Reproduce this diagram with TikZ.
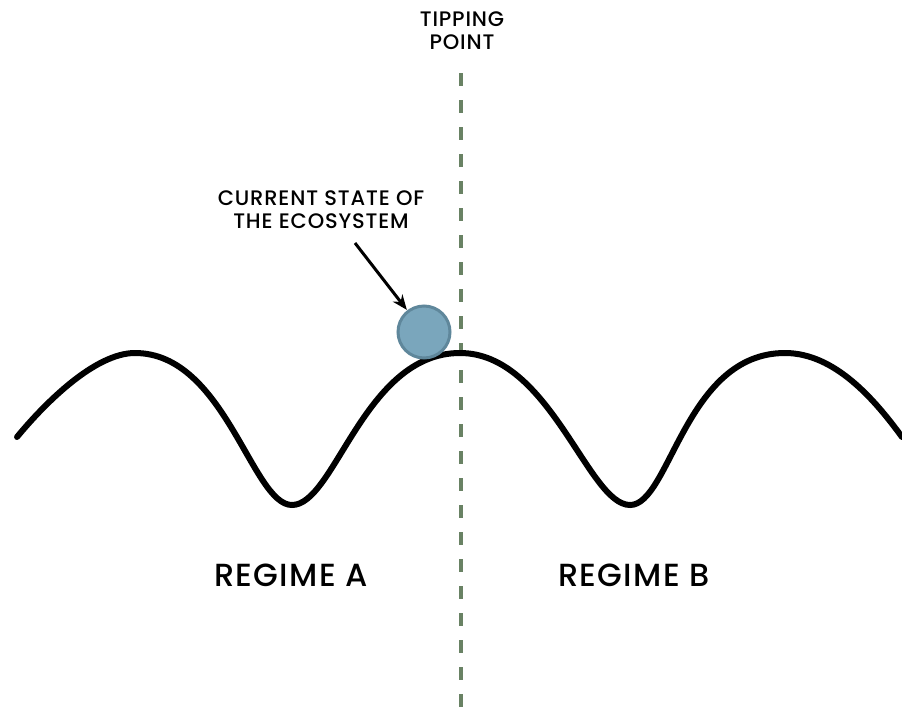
\documentclass[tikz,border=0pt]{standalone}
\usepackage{fontspec}
\setmainfont{Poppins Medium}[LetterSpace=4]
\usetikzlibrary{arrows.meta}
\definecolor{dashgreen}{RGB}{105,130,100}
\definecolor{ballfill}{RGB}{122,166,188}
\definecolor{balledge}{RGB}{95,135,155}
\tikzset{
  smalltxt/.style={font=\fontsize{21}{23}\selectfont, align=center, inner sep=0pt},
  bigtxt/.style={font=\fontsize{32}{36}\selectfont, inner sep=0pt},
  landscape/.style={line width=6, line cap=round, black},
  tipline/.style={line width=4, dashgreen, dash pattern=on 13 off 14},
  pointer/.style={line width=3, -{Stealth[length=15,width=12]}},
  ballstyle/.style={circle, fill=ballfill, draw=balledge, line width=3, minimum size=52, inner sep=0pt, outer sep=2}
}
\begin{document}
\begin{tikzpicture}[x=1pt,y=-1pt]
\useasboundingbox (0,0) rectangle (902,718);
% tipping point dashed line
\coordinate (ttop) at (461,73);
\coordinate (tbot) at (461,718);
\draw[tipline] (ttop) -- (tbot);
% landscape
\coordinate (s) at (17,437);
\coordinate (p1) at (135,353);
\coordinate (t1) at (292,505);
\coordinate (p2) at (460,353);
\coordinate (t2) at (630,505);
\coordinate (p3) at (785,353);
\coordinate (e) at (902,437);
\draw[landscape] (s) .. controls (45,403) and (95,353) .. (p1)
  .. controls (225,353) and (252,505) .. (t1)
  .. controls (335,505) and (364,353) .. (p2)
  .. controls (550,353) and (588,505) .. (t2)
  .. controls (670,505) and (685,353) .. (p3)
  .. controls (835,353) and (875,400) .. (e);
% ball
\node[ballstyle] (ball) at (424,332) {};
% labels
\node[smalltxt] (tp) at (462,31) {TIPPING\\POINT};
\node[smalltxt] (cur) at (321,210) {CURRENT STATE OF\\THE ECOSYSTEM};
\coordinate (arrs) at (355,243);
\draw[pointer] (arrs) -- (ball);
\node[bigtxt] (ra) at (291,575) {REGIME A};
\node[bigtxt] (rb) at (634,575) {REGIME B};
\end{tikzpicture}
\end{document}
